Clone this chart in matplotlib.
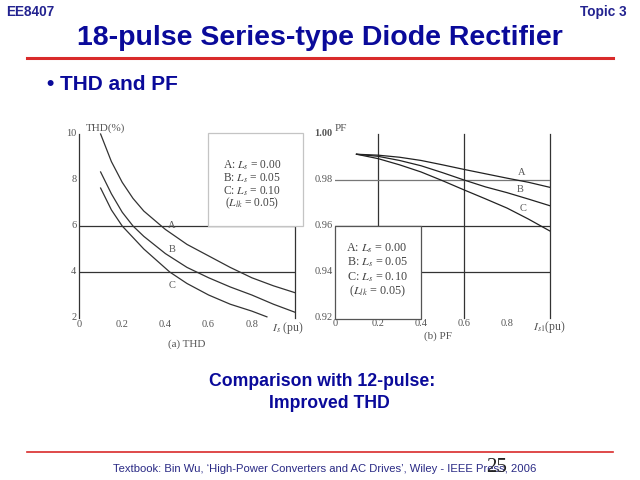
import matplotlib
matplotlib.use('Agg')
import matplotlib.pyplot as plt
from matplotlib.patches import Rectangle
from matplotlib.lines import Line2D

plt.rcParams['mathtext.fontset'] = 'stix'

# ---------------- data ----------------
thd_x = [0.10, 0.15, 0.20, 0.25, 0.30, 0.40, 0.50, 0.60, 0.70, 0.80, 0.90, 1.00]
thd_A = [10.0, 8.8, 7.9, 7.2, 6.65, 5.85, 5.2, 4.7, 4.2, 3.75, 3.4, 3.1]
thd_B = [8.35, 7.4, 6.6, 6.0, 5.55, 4.8, 4.2, 3.75, 3.35, 3.0, 2.6, 2.25]
thd_xC = [0.10, 0.15, 0.20, 0.30, 0.42, 0.50, 0.60, 0.70, 0.80, 0.87]
thd_C = [7.65, 6.7, 6.0, 5.0, 4.0, 3.5, 3.0, 2.6, 2.3, 2.05]

pf_x = [0.1, 0.2, 0.3, 0.4, 0.5, 0.6, 0.7, 0.8, 0.9, 1.0]
pf_A = [0.9912, 0.9908, 0.9899, 0.9885, 0.9866, 0.9846, 0.9827, 0.9808, 0.9790, 0.9768]
pf_B = [0.9912, 0.9903, 0.9885, 0.9862, 0.9832, 0.9800, 0.9770, 0.9745, 0.9717, 0.9688]
pf_C = [0.9912, 0.9893, 0.9866, 0.9835, 0.9797, 0.9757, 0.9718, 0.9678, 0.9630, 0.9578]

thd_yticks = [2, 4, 6, 8, 10]
thd_xticks = [0, 0.2, 0.4, 0.6, 0.8]
thd_hlines = [4, 6]
pf_yticks = [0.92, 0.94, 0.96, 0.98, 1.00]
pf_ytick_labels = ['0.92', '0.94', '0.96', '0.98', '1.00']
pf_xticks = [0, 0.2, 0.4, 0.6, 0.8]
pf_vlines = [0.2, 0.6, 1.0]
pf_hlines = [0.94, 0.96, 0.98]

legend_lines = ['A: $L_s$ = 0.00', 'B: $L_s$ = 0.05', 'C: $L_s$ = 0.10', '($L_{lk}$ = 0.05)']

# ---------------- figure ----------------
W, H = 640, 480
fig = plt.figure(figsize=(6.4, 4.8), dpi=100)

def fx(px):
    return px / W

def fy(py):
    return 1 - py / H

navy = '#0a0a9a'
serif = 'Liberation Serif'
sans = 'Liberation Sans'
gcol = '#555555'
lcol = '#333333'

# header / footer
fig.text(fx(6), fy(12), 'EE8407', fontsize=9.8, fontweight='bold', color='#232390',
         family=sans, ha='left', va='center')
fig.text(fx(627), fy(12), 'Topic 3', fontsize=9.8, fontweight='bold', color='#232390',
         family=sans, ha='right', va='center')
fig.text(fx(320), fy(38), '18-pulse Series-type Diode Rectifier', fontsize=20.5,
         fontweight='bold', color=navy, family=sans, ha='center', va='center')
fig.add_artist(Line2D([fx(27), fx(613)], [fy(57.5), fy(57.5)], color='#d92b2b', lw=2.2))
fig.text(fx(47), fy(85), '\u2022 THD and PF', fontsize=15, fontweight='bold',
         color=navy, family=sans, ha='left', va='center')
fig.text(fx(322), fy(382), 'Comparison with 12-pulse:', fontsize=12.7, fontweight='bold',
         color=navy, family=sans, ha='center', va='center')
fig.text(fx(329), fy(403), 'Improved THD', fontsize=12.7, fontweight='bold',
         color=navy, family=sans, ha='center', va='center')
fig.add_artist(Line2D([fx(27), fx(613)], [fy(452), fy(452)], color='#d92b2b', lw=1.2))
fig.text(fx(113), fy(469), 'Textbook: Bin Wu, \u2018High-Power Converters and AC Drives\u2019, Wiley - IEEE Press, 2006',
         fontsize=8.1, color='#2a2a85', family=sans, ha='left', va='center')
fig.text(fx(497), fy(467), '25', fontsize=15, color='#222222', family=serif,
         ha='center', va='center')

# ---------------- left chart: THD ----------------
ax1 = fig.add_axes([fx(79), fy(318), fx(295) - fx(79), fy(134) - fy(318)])
ax1.set_xlim(0, 1.0)
ax1.set_ylim(2, 10)
for s in ax1.spines.values():
    s.set_visible(False)
ax1.set_xticks([])
ax1.set_yticks([])
ax1.plot([0, 0], [2, 10], color=lcol, lw=0.9, clip_on=False)
ax1.plot([1.0, 1.0], [2, 10], color=lcol, lw=0.9, clip_on=False)
for h in thd_hlines:
    ax1.plot([0, 1.0], [h, h], color=lcol, lw=0.9)
ax1.plot(thd_x, thd_A, color=lcol, lw=0.9, clip_on=False)
ax1.plot(thd_x, thd_B, color=lcol, lw=0.9, clip_on=False)
ax1.plot(thd_xC, thd_C, color=lcol, lw=0.9, clip_on=False)
for v in thd_yticks:
    ax1.text(-0.012, v, str(v), fontsize=7.5, color=gcol, family=serif,
             ha='right', va='center')
for v in thd_xticks:
    ax1.text(v, 1.9, '0' if v == 0 else f'{v:.1f}', fontsize=7.5, color=gcol,
             family=serif, ha='center', va='top')
ax1.text(0.03, 10.05, 'THD(%)', fontsize=8, color=gcol, family=serif,
         ha='left', va='bottom')
ax1.text(0.895, 1.9, '$I_s$ (pu)', fontsize=8.5, color=gcol, family=serif,
         ha='left', va='top')
ax1.text(0.5, 1.05, '(a) THD', fontsize=8, color=gcol, family=serif,
         ha='center', va='top')
ax1.text(0.43, 6.04, 'A', fontsize=7.5, color=gcol, family=serif, ha='center', va='center')
ax1.text(0.43, 4.99, 'B', fontsize=7.5, color=gcol, family=serif, ha='center', va='center')
ax1.text(0.43, 3.40, 'C', fontsize=7.5, color=gcol, family=serif, ha='center', va='center')
ax1.add_patch(Rectangle((0.597, 6.0), 1.037 - 0.597, 10.04 - 6.0, facecolor='white',
                        edgecolor='#c4c4c4', lw=0.9, zorder=3, clip_on=False))
for i, t in enumerate(legend_lines):
    ax1.text(0.8, 8.62 - i * 0.545, t, fontsize=8.3, color='#444444', family=serif,
             ha='center', va='center', zorder=4)

# ---------------- right chart: PF ----------------
ax2 = fig.add_axes([fx(335), fy(318), fx(550) - fx(335), fy(134) - fy(318)])
ax2.set_xlim(0, 1.0)
ax2.set_ylim(0.92, 1.00)
for s in ax2.spines.values():
    s.set_visible(False)
ax2.set_xticks([])
ax2.set_yticks([])
for v in pf_vlines:
    ax2.plot([v, v], [0.92, 1.00], color=lcol, lw=0.9, clip_on=False)
for h in pf_hlines:
    ax2.plot([0, 1.0], [h, h], color=lcol if h != 0.98 else '#777777', lw=0.9)
ax2.plot(pf_x, pf_A, color='#222222', lw=0.9)
ax2.plot(pf_x, pf_B, color='#222222', lw=0.9)
ax2.plot(pf_x, pf_C, color='#222222', lw=0.9)
for v, lab in zip(pf_yticks, pf_ytick_labels):
    ax2.text(-0.012, v, lab, fontsize=7.5, color=gcol, family=serif,
             ha='right', va='center', fontweight='bold' if v == 1.00 else 'normal')
for v in pf_xticks:
    ax2.text(v, 0.9195, '0' if v == 0 else f'{v:.1f}', fontsize=7.5, color=gcol,
             family=serif, ha='center', va='top')
ax2.text(0.0, 1.0005, 'PF', fontsize=8, color=gcol, family=serif,
         ha='left', va='bottom')
ax2.text(0.92, 0.9195, '$I_{s1}$(pu)', fontsize=8.5, color=gcol, family=serif,
         ha='left', va='top')
ax2.text(0.48, 0.9142, '(b) PF', fontsize=8, color=gcol, family=serif,
         ha='center', va='top')
ax2.text(0.868, 0.9832, 'A', fontsize=7.5, color=gcol, family=serif, ha='center', va='center')
ax2.text(0.86, 0.9757, 'B', fontsize=7.5, color=gcol, family=serif, ha='center', va='center')
ax2.text(0.873, 0.9677, 'C', fontsize=7.5, color=gcol, family=serif, ha='center', va='center')
ax2.add_patch(Rectangle((0.0, 0.9196), 0.398, 0.96 - 0.9196, facecolor='white',
                        edgecolor='#555555', lw=0.9, zorder=3, clip_on=False))
for i, t in enumerate(legend_lines):
    ax2.text(0.196, 0.9505 - i * 0.0063, t, fontsize=8.7, color='#444444', family=serif,
             ha='center', va='center', zorder=4)

fig.savefig('out.png', dpi=100)
